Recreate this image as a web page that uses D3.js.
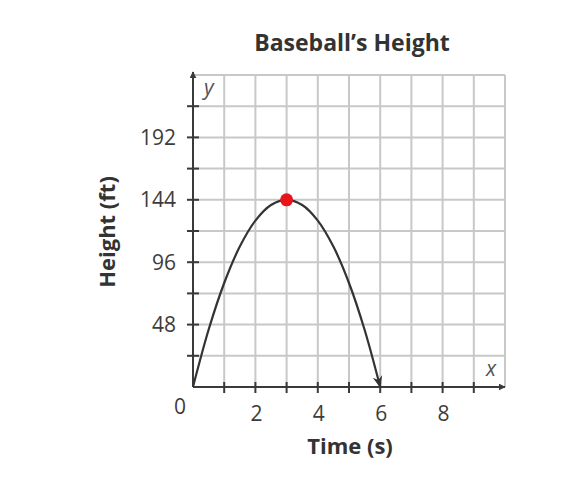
<!DOCTYPE html>
<html><head><meta charset="utf-8">
<script src="https://cdn.jsdelivr.net/npm/d3@7"></script>
<style>body{margin:0;background:#fff}svg{display:block}text{font-family:"Open Sans",sans-serif}</style>
</head><body><svg id="c" width="588" height="482"></svg>
<script>
const timeVals = [0,0.5,1,1.5,2,2.5,3,3.5,4,4.5,5,5.5,6];
const heightVals = [0,44,80,108,128,140,144,140,128,108,80,44,0];
const peak = {t:3, h:144};
const xTickLabels = [2,4,6,8];
const yTickLabels = [48,96,144,192];
const gridX = d3.range(0,11,1);
const gridY = d3.range(0,241,24);

const svg = d3.select("#c");
const x = d3.scaleLinear().domain([0,10]).range([193,505]);
const y = d3.scaleLinear().domain([0,240]).range([387,75]);

const defs = svg.append("defs");
defs.append("marker").attr("id","ah").attr("viewBox","0 0 10 10").attr("refX",9).attr("refY",5)
  .attr("markerWidth",7).attr("markerHeight",7).attr("orient","auto-start-reverse").attr("markerUnits","userSpaceOnUse")
  .append("path").attr("d","M0,0 L10,5 L0,10 z").attr("fill","#3a3a3a");
defs.append("marker").attr("id","ah2").attr("viewBox","0 0 10 10").attr("refX",9).attr("refY",5)
  .attr("markerWidth",12).attr("markerHeight",12).attr("orient","auto").attr("markerUnits","userSpaceOnUse")
  .append("path").attr("d","M0,1 L10,5 L0,9 L3,5 z").attr("fill","#333");

// grid
svg.append("g").selectAll("line").data(gridX.slice(1)).join("line")
  .attr("x1",d=>x(d)).attr("x2",d=>x(d)).attr("y1",y(0)).attr("y2",y(240))
  .attr("stroke","#c8c8c8").attr("stroke-width",2);
svg.append("g").selectAll("line").data(gridY.slice(1)).join("line")
  .attr("x1",x(0)).attr("x2",x(10)).attr("y1",d=>y(d)).attr("y2",d=>y(d))
  .attr("stroke","#c8c8c8").attr("stroke-width",2);

// axes with ticks
const axisCol="#3a3a3a";
svg.append("line").attr("x1",x(0)).attr("x2",x(10)).attr("y1",y(0)).attr("y2",y(0))
  .attr("stroke",axisCol).attr("stroke-width",2).attr("marker-end","url(#ah)");
svg.append("line").attr("x1",x(0)).attr("x2",x(0)).attr("y1",y(0)).attr("y2",y(240)-3)
  .attr("stroke",axisCol).attr("stroke-width",2).attr("marker-end","url(#ah)");
svg.append("g").selectAll("line").data(gridX.slice(1,10)).join("line")
  .attr("x1",d=>x(d)).attr("x2",d=>x(d)).attr("y1",y(0)-5).attr("y2",y(0)+6)
  .attr("stroke",axisCol).attr("stroke-width",2);
svg.append("g").selectAll("line").data(gridY.slice(1,10)).join("line")
  .attr("x1",x(0)-6).attr("x2",x(0)+6).attr("y1",d=>y(d)).attr("y2",d=>y(d))
  .attr("stroke",axisCol).attr("stroke-width",2);

// tick labels
const tc="#3c3c3c";
svg.append("g").selectAll("text").data(xTickLabels).join("text")
  .attr("x",d=>x(d)+1).attr("y",421).attr("text-anchor","middle")
  .attr("font-size",21).attr("fill",tc).text(d=>d);
svg.append("g").selectAll("text").data(yTickLabels).join("text")
  .attr("x",176).attr("y",d=>y(d)+7.5).attr("text-anchor","end")
  .attr("font-size",21).attr("fill",tc).text(d=>d);
svg.append("text").attr("x",180).attr("y",414).attr("text-anchor","middle")
  .attr("font-size",21).attr("fill",tc).text("0");

// axis letters
svg.append("text").attr("x",204).attr("y",95).attr("font-size",21).attr("font-style","italic").attr("fill","#555").text("y");
svg.append("text").attr("x",486).attr("y",376).attr("font-size",21).attr("font-style","italic").attr("fill","#555").text("x");

// curve
const line = d3.line().x(d=>x(d[0])).y(d=>y(d[1])).curve(d3.curveCatmullRom);
svg.append("path").datum(timeVals.map((t,i)=>[t,heightVals[i]]))
  .attr("d",line).attr("fill","none").attr("stroke","#333").attr("stroke-width",2.2)
  .attr("marker-end","url(#ah2)");

svg.append("circle").attr("cx",x(peak.t)).attr("cy",y(peak.h)).attr("r",6.5).attr("fill","#e8141c");

// titles
svg.append("text").attr("x",352).attr("y",51).attr("text-anchor","middle")
  .attr("font-size",23).attr("font-weight","bold").attr("fill","#333").text("Baseball’s Height");
svg.append("text").attr("x",350).attr("y",454).attr("text-anchor","middle")
  .attr("font-size",22).attr("font-weight","bold").attr("fill","#333").text("Time (s)");
svg.append("text").attr("transform","translate(115,232) rotate(-90)").attr("text-anchor","middle")
  .attr("font-size",22).attr("font-weight","bold").attr("fill","#333").text("Height (ft)");
</script></body></html>
